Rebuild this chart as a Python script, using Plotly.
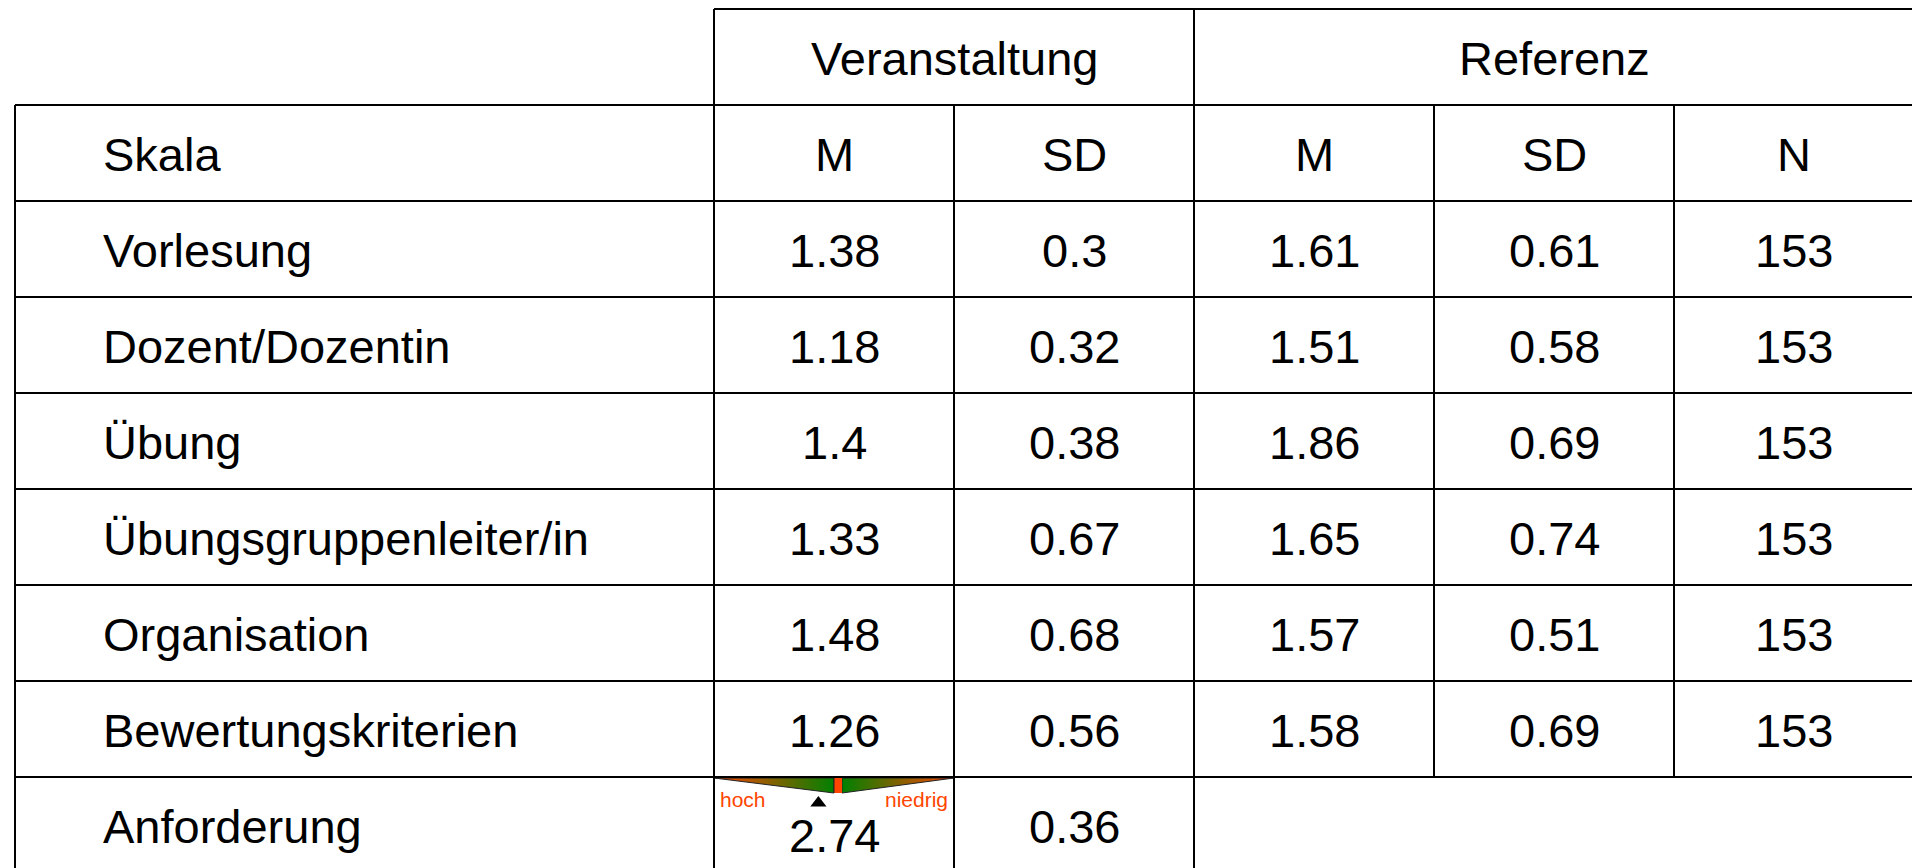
import plotly.graph_objects as go

# ---------------- data ----------------
skalen = ["Vorlesung", "Dozent/Dozentin", "Übung", "Übungsgruppenleiter/in",
          "Organisation", "Bewertungskriterien", "Anforderung"]
veranst_m = ["1.38", "1.18", "1.4", "1.33", "1.48", "1.26", "2.74"]
veranst_sd = ["0.3", "0.32", "0.38", "0.67", "0.68", "0.56", "0.36"]
ref_m = ["1.61", "1.51", "1.86", "1.65", "1.57", "1.58", None]
ref_sd = ["0.61", "0.58", "0.69", "0.74", "0.51", "0.69", None]
ref_n = ["153", "153", "153", "153", "153", "153", None]
group_headers = ["Veranstaltung", "Referenz"]
col_headers = ["Skala", "M", "SD", "M", "SD", "N"]
anf_label_lo = "hoch"
anf_label_hi = "niedrig"
anf_scale = (1, 5)          # scale of the Anforderung gauge
anf_value = 2.74

# ---------------- layout geometry (page pixels) ----------------
W, H = 1912, 868
col_edges = [15, 714, 954, 1194, 1434, 1674, 1914]
top = 9
row_h = 96
n_rows = 2 + len(skalen)
row_edges = [top + i * row_h for i in range(n_rows + 1)]
FONT = "Arial, 'Liberation Sans', sans-serif"
FS = 47
LW = 2
ORANGE = "#FF4500"
GREEN = "#008000"
DY = 1

fig = go.Figure()
shapes = []
ann = []


def hline(y, x0, x1):
    shapes.append(dict(type="line", xref="x", yref="y", x0=x0, x1=x1, y0=y, y1=y,
                       line=dict(color="black", width=LW)))


def vline(x, y0, y1):
    shapes.append(dict(type="line", xref="x", yref="y", x0=x, x1=x, y0=y0, y1=y1,
                       line=dict(color="black", width=LW)))


def text(x, y, s, anchor="center", size=FS, color="black"):
    ann.append(dict(x=x, y=y, xref="x", yref="y", text=s, showarrow=False,
                    xanchor=anchor, yanchor="middle",
                    font=dict(family=FONT, size=size, color=color)))


bottom = row_edges[-1]
last_top = row_edges[-2]
# horizontal lines
hline(row_edges[0], col_edges[1], col_edges[-1])
for y in row_edges[1:-1]:
    hline(y, col_edges[0], col_edges[-1])
# vertical lines
vline(col_edges[0], row_edges[1], bottom)
vline(col_edges[1], row_edges[0], bottom)
vline(col_edges[2], row_edges[1], bottom)
vline(col_edges[3], row_edges[0], bottom)
vline(col_edges[4], row_edges[1], last_top)
vline(col_edges[5], row_edges[1], last_top)

centers = [(col_edges[i] + col_edges[i + 1]) / 2 for i in range(len(col_edges) - 1)]
rc = [(row_edges[i] + row_edges[i + 1]) / 2 + DY for i in range(n_rows)]

# group headers
text((col_edges[1] + col_edges[3]) / 2, rc[0], group_headers[0])
text((col_edges[3] + col_edges[6]) / 2, rc[0], group_headers[1])
# column headers
text(101, rc[1], col_headers[0], anchor="left")
for j, h in enumerate(col_headers[1:], start=1):
    text(centers[j], rc[1], h)

# body
for i, name in enumerate(skalen):
    r = rc[i + 2]
    text(101, r, name, anchor="left")
    vals = [veranst_m[i], veranst_sd[i], ref_m[i], ref_sd[i], ref_n[i]]
    for j, v in enumerate(vals, start=1):
        if v is None:
            continue
        if i == len(skalen) - 1 and j == 1:
            text(centers[j], r + 9, v)
        else:
            text(centers[j], r, v)

# Anforderung gauge inside the M cell of the last row
cx0, cx1 = col_edges[1], col_edges[2]
mid = (cx0 + cx1) / 2
gy0 = last_top + 1
gy1 = last_top + 16
fig.add_trace(go.Scatter(
    x=[cx0, mid, mid, cx0], y=[gy0, gy1, gy0, gy0], mode="lines", fill="toself",
    fillgradient=dict(type="horizontal", colorscale=[[0, ORANGE], [1, GREEN]]),
    line=dict(color="#222", width=1), hoverinfo="skip", showlegend=False))
fig.add_trace(go.Scatter(
    x=[mid + 8, mid + 8, cx1, mid + 8], y=[gy0, gy1, gy0, gy0], mode="lines", fill="toself",
    fillgradient=dict(type="horizontal", colorscale=[[0, GREEN], [1, ORANGE]]),
    line=dict(color="#222", width=1), hoverinfo="skip", showlegend=False))
shapes.append(dict(type="rect", xref="x", yref="y", x0=mid, x1=mid + 8, y0=gy0, y1=gy1,
                   fillcolor=ORANGE, line=dict(width=0)))
shapes.append(dict(type="line", xref="x", yref="y", x0=mid, x1=mid, y0=gy0, y1=gy1,
                   line=dict(color="#222", width=1)))
ax = cx0 + (anf_value - anf_scale[0]) / (anf_scale[1] - anf_scale[0]) * (cx1 - cx0)
fig.add_trace(go.Scatter(x=[ax], y=[gy1 + 10], mode="markers",
                         marker=dict(symbol="triangle-up", size=14, color="black",
                                     line=dict(width=0)),
                         hoverinfo="skip", showlegend=False))
text(cx0 + 4, last_top + 22, anf_label_lo, anchor="left", size=21, color=ORANGE)
text(cx1 - 4, last_top + 22, anf_label_hi, anchor="right", size=21, color=ORANGE)

fig.update_layout(
    width=W, height=H, margin=dict(l=0, r=0, t=0, b=0),
    paper_bgcolor="white", plot_bgcolor="white",
    xaxis=dict(range=[0, W], visible=False, fixedrange=True),
    yaxis=dict(range=[H, 0], visible=False, fixedrange=True),
    shapes=shapes, annotations=ann, showlegend=False,
)
fig.write_html("out.html",
               config={"displayModeBar": False, "staticPlot": True},
               post_script="document.body.style.margin='0';"
                           "document.body.style.overflow='hidden';")
